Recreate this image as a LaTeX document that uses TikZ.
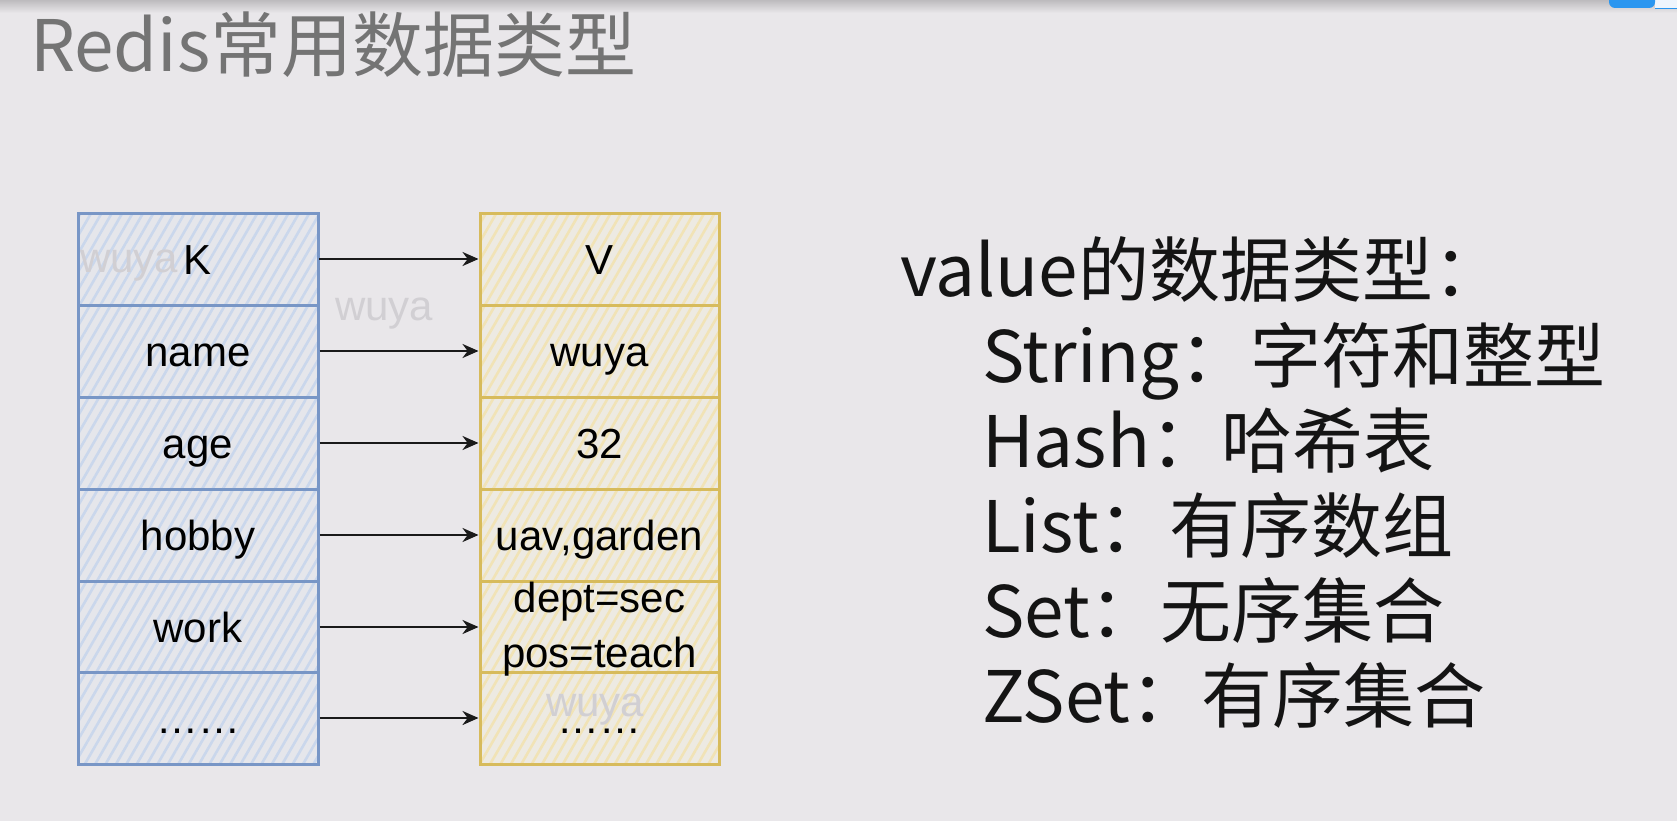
\documentclass[tikz,border=0pt]{standalone}
\usepackage{fontspec}
\setmainfont{Liberation Sans}
\newfontfamily\cjk{Noto Sans CJK SC}
\usetikzlibrary{patterns.meta,arrows.meta}
\definecolor{bg}{HTML}{E9E7EA}
\definecolor{topg}{HTML}{BDBBBE}
\definecolor{titlegray}{HTML}{747474}
\definecolor{txt}{HTML}{141414}
\definecolor{kline}{HTML}{7896C6}
\definecolor{kfill}{HTML}{E5E6EB}
\definecolor{khatch}{HTML}{CAD7EC}
\definecolor{vline}{HTML}{D7BB5C}
\definecolor{vfill}{HTML}{EDEAE2}
\definecolor{vhatch}{HTML}{F1E3B6}
\definecolor{wm}{HTML}{D1CFD3}
\definecolor{arrowc}{HTML}{1A1A1A}
\definecolor{uiblue}{HTML}{2A96F0}
\definecolor{uilight}{HTML}{EEF5FD}
\tikzset{
  cell/.style={minimum width=240pt, minimum height=92pt, inner sep=0pt,
    line width=3pt, text height=30pt, text depth=0pt,
    font=\fontsize{42}{50}\selectfont, text=black},
  kcell/.style={cell, draw=kline, preaction={fill=kfill},
    pattern={Lines[angle=60, distance=9pt, line width=2.6pt]}, pattern color=khatch},
  vcell/.style={cell, draw=vline, minimum width=239pt, preaction={fill=vfill},
    pattern={Lines[angle=60, distance=9pt, line width=2.6pt]}, pattern color=vhatch},
  link/.style={draw=arrowc, line width=2.6pt, -{Stealth[length=16pt, width=14pt]}},
  wmark/.style={font=\fontsize{42}{50}\selectfont, text=wm, inner sep=0pt, anchor=base west},
  bigtxt/.style={font=\cjk\fontsize{71}{85}\selectfont, text=txt, inner sep=0pt, anchor=base west}
}
\begin{document}
\begin{tikzpicture}[x=1pt,y=1pt]
\fill[bg] (0,0) rectangle (1677,-821);
\useasboundingbox (0,0) rectangle (1677,-821);
\shade[top color=topg, bottom color=bg] (0,0) rectangle (1677,-13);
% top-right UI artifact
\fill[uilight] (1655,0) rectangle (1677,-8);
\fill[uiblue] (1655,-8) rectangle (1677,-9.5);
\fill[uiblue, rounded corners=6pt] (1609,6) rectangle (1655,-8);

% title
\node[anchor=base west, inner sep=0pt, font=\cjk\fontsize{71}{85}\selectfont, text=titlegray]
  (title) at (30,-72) {Redis常用数据类型};

% key column
\node[kcell] (k0) at (198,-259) {K};
\node[kcell] (k1) at (198,-351) {name};
\node[kcell] (k2) at (198,-443) {age};
\node[kcell] (k3) at (198,-535) {hobby};
\node[kcell] (k4) at (198,-627) {work};
\node[kcell] (k5) at (198,-718) {……};

% value column
\node[vcell] (v0) at (599.5,-259) {V};
\node[vcell] (v1) at (599.5,-351) {wuya};
\node[vcell] (v2) at (599.5,-443) {32};
\node[vcell] (v3) at (599.5,-535) {uav,garden};
\node[vcell] (v4) at (599.5,-627) {};
\node[vcell] (v5) at (599.5,-718) {……};
\node[inner sep=0pt, font=\fontsize{42}{55}\selectfont, text=black, anchor=base] (v4a) at (599.5,-612) {dept=sec};
\node[inner sep=0pt, font=\fontsize{42}{55}\selectfont, text=black, anchor=base] (v4b) at (599.5,-667) {pos=teach};

% arrows
\foreach \i in {0,...,5} { \draw[link] (k\i.east) -- (v\i.west); }

% watermarks
\node[wmark] (wm1) at (80,-272) {wuya};
\node[wmark] (wm2) at (335,-320) {wuya};
\node[wmark] (wm3) at (546,-716) {wuya};

% value types list
\node[bigtxt] (t0) at (900,-296) {value的数据类型：};
\node[bigtxt] (t1) at (982,-382) {String：字符和整型};
\node[bigtxt] (t2) at (982,-467) {Hash：哈希表};
\node[bigtxt] (t3) at (982,-552) {List：有序数组};
\node[bigtxt] (t4) at (982,-637) {Set：无序集合};
\node[bigtxt] (t5) at (982,-722) {ZSet：有序集合};
\end{tikzpicture}
\end{document}
